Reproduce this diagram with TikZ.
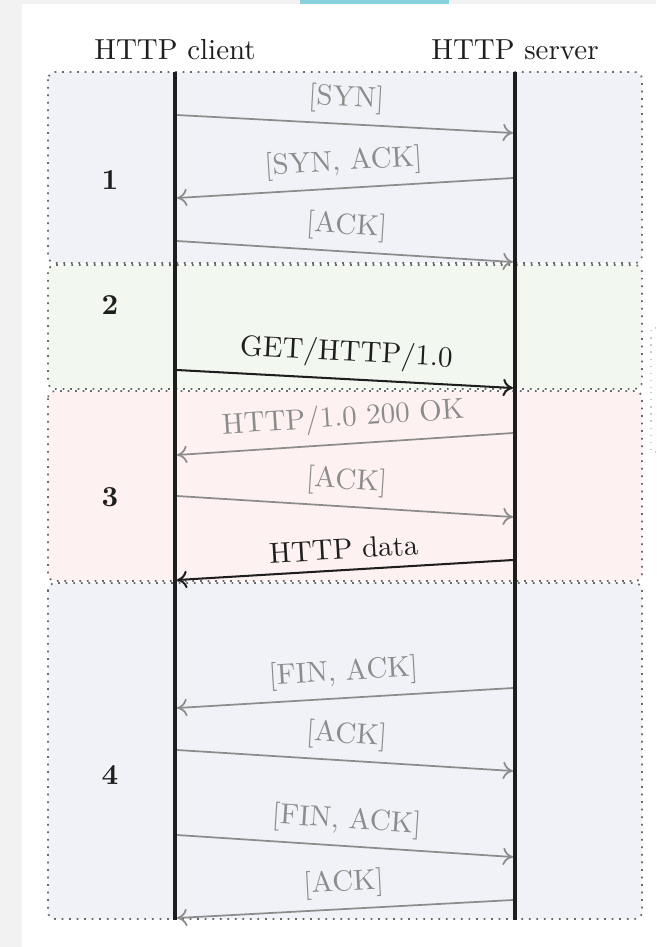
\documentclass[tikz,border=0pt]{standalone}
\usetikzlibrary{arrows.meta}

\definecolor{pagegray}{RGB}{242,242,242}
\definecolor{tabcyan}{RGB}{136,209,223}
\definecolor{paneblue}{RGB}{241,242,248}
\definecolor{panegreen}{RGB}{242,247,240}
\definecolor{panepink}{RGB}{253,242,241}
\definecolor{bordergray}{RGB}{105,105,105}
\definecolor{msggray}{RGB}{140,140,140}
\definecolor{inkblack}{RGB}{30,30,30}

\tikzset{
  phase/.style={draw=bordergray, dotted, line width=0.6pt, rounded corners=2.5pt},
  lifeline/.style={draw=inkblack, line width=1.25pt},
  msg/.style={draw=msggray, line width=0.6pt, -{To[length=3.5pt,width=6pt]}},
  mainmsg/.style={draw=inkblack, line width=0.7pt, -{To[length=3.5pt,width=6pt]}},
  lbl/.style={midway, above, sloped, text=msggray},
  mainlbl/.style={midway, above, sloped, text=inkblack},
  phasenum/.style={font=\bfseries, text=inkblack},
  header/.style={text=inkblack}
}

\begin{document}
\begin{tikzpicture}[x=0.345pt, y=-0.345pt]
\useasboundingbox (0,0) rectangle (656,947);

% page background and window chrome
\fill[white] (0,0) rectangle (656,947);
\fill[pagegray] (0,0) rectangle (22,947);
\fill[pagegray] (0,0) rectangle (656,4);
\fill[tabcyan] (300,0) rectangle (449,4);

% phase panels
\path[phase, fill=paneblue]  (48,72)  rectangle (642,263);
\path[phase, fill=panegreen] (48,265) rectangle (642,389);
\path[phase, fill=panepink]  (48,391) rectangle (642,581);
\path[phase, fill=paneblue]  (48,583) rectangle (642,919);

% edge of the neighbouring panels on the right
\draw[bordergray!35, dotted, line width=0.45pt] (656,328) -- (651,328) -- (651,388);
\draw[bordergray!35, dotted, line width=0.45pt] (651,392) -- (651,452) -- (656,452);

% participants
\node[header] (client) at (175,50) {HTTP client};
\node[header] (server) at (515,50) {HTTP server};

\coordinate (ctop) at (175,72);
\coordinate (cbot) at (175,920);
\coordinate (stop) at (515,72);
\coordinate (sbot) at (515,920);
\draw[lifeline] (ctop) -- (cbot);
\draw[lifeline] (stop) -- (sbot);

% phase numbers
\node[phasenum] (p1) at (110,180) {1};
\node[phasenum] (p2) at (110,305) {2};
\node[phasenum] (p3) at (110,497) {3};
\node[phasenum] (p4) at (110,775) {4};

% message end points
\coordinate (a1) at (177,115); \coordinate (b1) at (513,133);
\coordinate (a2) at (513,178); \coordinate (b2) at (177,198);
\coordinate (a3) at (177,241); \coordinate (b3) at (513,262);
\coordinate (a4) at (177,370); \coordinate (b4) at (513,388);
\coordinate (a5) at (513,433); \coordinate (b5) at (177,455);
\coordinate (a6) at (177,496); \coordinate (b6) at (513,517);
\coordinate (a7) at (513,560); \coordinate (b7) at (177,580);
\coordinate (a8) at (513,688); \coordinate (b8) at (177,708);
\coordinate (a9) at (177,750); \coordinate (b9) at (513,771);
\coordinate (a10) at (177,835); \coordinate (b10) at (513,857);
\coordinate (a11) at (513,900); \coordinate (b11) at (177,918);

% handshake
\draw[msg] (a1) -- node[lbl] {[SYN]} (b1);
\draw[msg] (a2) -- node[lbl] {[SYN, ACK]} (b2);
\draw[msg] (a3) -- node[lbl] {[ACK]} (b3);

% request
\draw[mainmsg] (a4) -- node[mainlbl] {GET/HTTP/1.0} (b4);

% response
\draw[msg] (a5) -- node[lbl] {HTTP/1.0 200 OK} (b5);
\draw[msg] (a6) -- node[lbl] {[ACK]} (b6);
\draw[mainmsg] (a7) -- node[mainlbl] {HTTP data} (b7);

% teardown
\draw[msg] (a8) -- node[lbl] {[FIN, ACK]} (b8);
\draw[msg] (a9) -- node[lbl] {[ACK]} (b9);
\draw[msg] (a10) -- node[lbl] {[FIN, ACK]} (b10);
\draw[msg] (a11) -- node[lbl] {[ACK]} (b11);
\end{tikzpicture}
\end{document}
